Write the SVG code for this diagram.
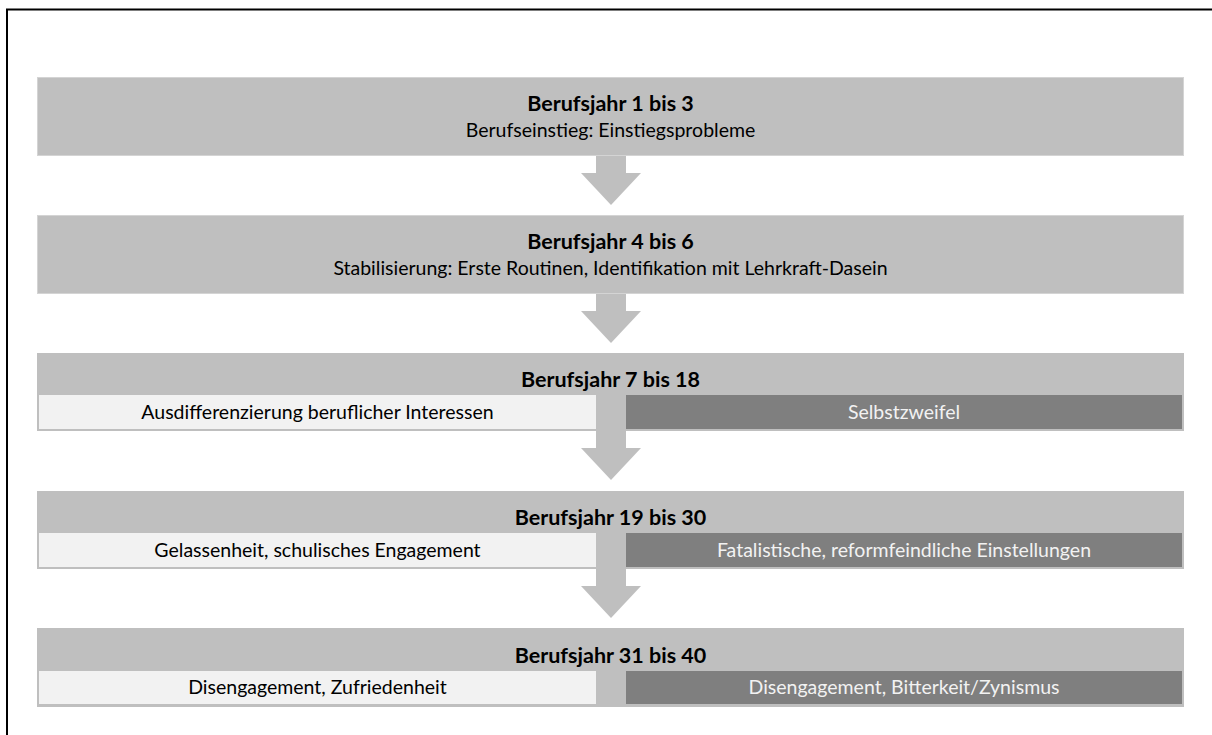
<svg xmlns="http://www.w3.org/2000/svg" width="1212" height="735" viewBox="0 0 1212 735">
  <style>
    .frame { fill: none; stroke: #000; stroke-width: 2; }
    .head { fill: #bfbfbf; stroke: #d4d4d4; stroke-width: 1; }
    .outer { fill: #bfbfbf; }
    .light { fill: #f2f2f2; }
    .dark { fill: #7f7f7f; }
    .arrow { fill: #bfbfbf; }
    text { font-family: Lato, "Open Sans", "Liberation Sans", sans-serif; text-anchor: middle; }
    .title { font-size: 21.5px; font-weight: bold; fill: #000; }
    .sub { font-size: 19.5px; fill: #000; }
    .subw { font-size: 19.5px; fill: #f2f2f2; }
  </style>

  <rect class="frame" x="7" y="9.5" width="1230" height="740"/>

  <g id="connectors">
    <polygon class="arrow" points="596,156 626,156 626,173 641,173 611,205 581,173 596,173"/>
    <polygon class="arrow" points="596,294 626,294 626,311 641,311 611,343 581,311 596,311"/>
    <polygon class="arrow" points="596,420 626,420 626,448 641,448 611,480 581,448 596,448"/>
    <polygon class="arrow" points="596,560 626,560 626,586 641,586 611,618 581,586 596,586"/>
  </g>

  <g id="phase1">
    <rect class="head" x="37.5" y="77.5" width="1146" height="78"/>
    <text class="title" x="610.5" y="111">Berufsjahr 1 bis 3</text>
    <text class="sub" x="610.5" y="137">Berufseinstieg: Einstiegsprobleme</text>
  </g>

  <g id="phase2">
    <rect class="head" x="37.5" y="215.5" width="1146" height="78"/>
    <text class="title" x="610.5" y="249">Berufsjahr 4 bis 6</text>
    <text class="sub" x="610.5" y="275">Stabilisierung: Erste Routinen, Identifikation mit Lehrkraft-Dasein</text>
  </g>

  <g id="phase3">
    <rect class="outer" x="37" y="353" width="1147" height="78"/>
    <rect class="light" x="39" y="395" width="557" height="34"/>
    <rect class="dark" x="626" y="395" width="556" height="34"/>
    <polygon class="arrow" points="596,395 626,395 626,431 596,431"/>
    <text class="title" x="610.5" y="387">Berufsjahr 7 bis 18</text>
    <text class="sub" x="317.5" y="419">Ausdifferenzierung beruflicher Interessen</text>
    <text class="subw" x="904" y="419">Selbstzweifel</text>
  </g>

  <g id="phase4">
    <rect class="outer" x="37" y="491" width="1147" height="78"/>
    <rect class="light" x="39" y="533" width="557" height="34"/>
    <rect class="dark" x="626" y="533" width="556" height="34"/>
    <polygon class="arrow" points="596,533 626,533 626,569 596,569"/>
    <text class="title" x="610.5" y="525">Berufsjahr 19 bis 30</text>
    <text class="sub" x="317.5" y="557">Gelassenheit, schulisches Engagement</text>
    <text class="subw" x="904" y="557">Fatalistische, reformfeindliche Einstellungen</text>
  </g>

  <g id="phase5">
    <rect class="outer" x="37" y="628" width="1147" height="79"/>
    <rect class="light" x="39" y="671" width="557" height="33"/>
    <rect class="dark" x="626" y="671" width="556" height="33"/>
    <text class="title" x="610.5" y="663">Berufsjahr 31 bis 40</text>
    <text class="sub" x="317.5" y="694">Disengagement, Zufriedenheit</text>
    <text class="subw" x="904" y="694">Disengagement, Bitterkeit/Zynismus</text>
  </g>
</svg>
